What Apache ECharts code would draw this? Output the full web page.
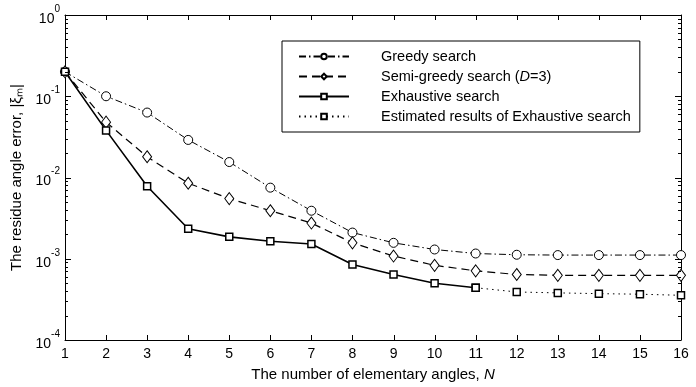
<!DOCTYPE html>
<html>
<head>
<meta charset="utf-8">
<script src="https://cdn.jsdelivr.net/npm/echarts@6/dist/echarts.min.js"></script>
<style>
  html, body { margin: 0; padding: 0; background: #fff; }
  #chart { width: 696px; height: 387px; }
</style>
</head>
<body>
<div id="chart"></div>
<script>
// number of elementary angles N
const nValues = [1, 2, 3, 4, 5, 6, 7, 8, 9, 10, 11, 12, 13, 14, 15, 16];

const greedy = [0.2, 0.1, 0.063, 0.029, 0.0155, 0.0075, 0.0039, 0.0021, 0.00157, 0.0013, 0.00116, 0.00112, 0.00111, 0.00111, 0.00111, 0.00111];
const semiGreedy = [0.2, 0.048, 0.018, 0.0085, 0.0055, 0.0039, 0.00275, 0.00157, 0.00108, 0.00083, 0.00071, 0.00064, 0.000625, 0.000625, 0.000625, 0.000625];
// exhaustive search runs N = 1..11, estimate continues N = 11..16
const exhaustive = [0.2, 0.038, 0.0078, 0.00234, 0.00186, 0.00164, 0.00152, 0.00085, 0.00064, 0.0005, 0.00044];
const estimatedN = [11, 12, 13, 14, 15, 16];
const estimated = [0.00044, 0.00039, 0.00038, 0.000372, 0.000366, 0.000355];

// decade exponents on the y axis; minor ticks at 2..9 of each decade
const yExponents = [-4, -3, -2, -1, 0];
const minorSteps = [2, 3, 4, 5, 6, 7, 8, 9];

const font = "Liberation Sans, Arial, Helvetica, sans-serif";

const chartDom = document.getElementById("chart");
const myChart = echarts.init(chartDom);

const pairs = (xs, ys) => ys.map((y, i) => [xs[i], y]);

const yLabel = (v) => "{b|10}{s|" + Math.round(Math.log10(v)) + "}";

const xAxisBase = (position) => ({
  type: "value",
  min: nValues[0],
  max: nValues[nValues.length - 1],
  interval: 1,
  position: position,
  axisLine: { show: true, onZero: false, lineStyle: { color: "#000" } },
  axisTick: { show: false },
  splitLine: { show: false },
});

const yAxisBase = (position) => ({
  type: "log",
  logBase: 10,
  min: Math.pow(10, yExponents[0]),
  max: Math.pow(10, yExponents[yExponents.length - 1]),
  position: position,
  axisLine: { show: true, onZero: false, lineStyle: { color: "#000", width: 1 } },
  axisTick: { show: false },
  splitLine: { show: false },
});

const option = {
  animation: false,
  grid: { left: 65, right: 15, top: 15, bottom: 44 },
  legend: {
    orient: "vertical",
    left: 282,
    top: 41,
    itemWidth: 50,
    itemHeight: 7,
    itemGap: 5,
    padding: [8, 9, 8, 16],
    borderColor: "#000",
    borderWidth: 1,
    data: ["Greedy search", "Semi-greedy search (D=3)", "Exhaustive search", "Estimated results of Exhaustive search"],
    formatter: (name) => name.replace("(D=3)", "({i|D}=3)"),
    textStyle: {
      fontFamily: font,
      fontSize: 14.5,
      lineHeight: 13,
      color: "#000",
      padding: [0, 0, 0, 27],
      rich: { i: { fontFamily: font, fontSize: 14.5, lineHeight: 13, fontStyle: "italic", color: "#000" } },
    },
  },
  xAxis: [
    Object.assign(xAxisBase("bottom"), {
      name: "The number of elementary angles, {i|N}",
      nameLocation: "middle",
      nameGap: 27,
      nameTextStyle: {
        fontFamily: font,
        fontSize: 15,
        color: "#000",
        rich: { i: { fontFamily: font, fontSize: 15, fontStyle: "italic", color: "#000" } },
      },
      axisLabel: { fontFamily: font, fontSize: 14, color: "#000", margin: 7 },
    }),
    Object.assign(xAxisBase("top"), { axisLabel: { show: false } }),
  ],
  yAxis: [
    Object.assign(yAxisBase("left"), {
      name: "The residue angle error, |ξₘ|",
      nameLocation: "middle",
      nameGap: 30,
      nameTextStyle: { fontFamily: font, fontSize: 15, color: "#000" },
      axisLabel: {
        formatter: yLabel,
        color: "#000",
        margin: 5,
        rich: {
          b: { fontSize: 14, fontFamily: font, color: "#000", padding: [8, 0, 0, 0] },
          s: { fontSize: 10, fontFamily: font, color: "#000", verticalAlign: "top" },
        },
      },
    }),
    Object.assign(yAxisBase("right"), { axisLabel: { show: false } }),
  ],
  series: [
    {
      name: "Greedy search",
      type: "line",
      data: pairs(nValues, greedy),
      symbol: "circle",
      symbolSize: 9,
      itemStyle: { color: "#fff", borderColor: "#000", borderWidth: 1 },
      lineStyle: { color: "#000", width: 1, type: [7, 3, 1.5, 3] },
      z: 3,
    },
    {
      name: "Semi-greedy search (D=3)",
      type: "line",
      data: pairs(nValues, semiGreedy),
      symbol: "diamond",
      symbolSize: [9, 12],
      itemStyle: { color: "#fff", borderColor: "#000", borderWidth: 1 },
      lineStyle: { color: "#000", width: 1.2, type: [8, 5] },
      z: 3,
    },
    {
      name: "Exhaustive search",
      type: "line",
      data: pairs(nValues, exhaustive),
      symbol: "rect",
      symbolSize: 7,
      itemStyle: { color: "#fff", borderColor: "#000", borderWidth: 1.5 },
      lineStyle: { color: "#000", width: 1.6, type: "solid" },
      z: 4,
    },
    {
      name: "Estimated results of Exhaustive search",
      type: "line",
      data: pairs(estimatedN, estimated),
      symbol: "rect",
      symbolSize: 7,
      itemStyle: { color: "#fff", borderColor: "#000", borderWidth: 1.5 },
      lineStyle: { color: "#000", width: 1, type: [1.5, 4] },
      z: 4,
    },
  ],
};

myChart.setOption(option);

// inward frame ticks, placed through the chart's own scales
// (axisTick with inside: true did not show up here)
const tickLine = (x1, y1, x2, y2) => ({
  type: "line",
  z: 20,
  silent: true,
  shape: { x1: x1, y1: y1, x2: x2, y2: y2 },
  style: { stroke: "#000", lineWidth: 1 },
});

const ticks = [];
const xLeft = myChart.convertToPixel({ xAxisIndex: 0 }, nValues[0]);
const xRight = myChart.convertToPixel({ xAxisIndex: 0 }, nValues[nValues.length - 1]);
const yBottom = myChart.convertToPixel({ yAxisIndex: 0 }, Math.pow(10, yExponents[0]));
const yTop = myChart.convertToPixel({ yAxisIndex: 0 }, Math.pow(10, yExponents[yExponents.length - 1]));

nValues.forEach((n) => {
  const x = Math.round(myChart.convertToPixel({ xAxisIndex: 0 }, n)) + 0.5;
  ticks.push(tickLine(x, yBottom, x, yBottom - 5));
  ticks.push(tickLine(x, yTop, x, yTop + 5));
});

yExponents.forEach((e, i) => {
  const y = Math.round(myChart.convertToPixel({ yAxisIndex: 0 }, Math.pow(10, e))) + 0.5;
  ticks.push(tickLine(xLeft, y, xLeft + 6, y));
  ticks.push(tickLine(xRight, y, xRight - 6, y));
  if (i < yExponents.length - 1) {
    minorSteps.forEach((k) => {
      const ym = Math.round(myChart.convertToPixel({ yAxisIndex: 0 }, k * Math.pow(10, e))) + 0.5;
      ticks.push(tickLine(xLeft, ym, xLeft + 3, ym));
      ticks.push(tickLine(xRight, ym, xRight - 3, ym));
    });
  }
});

myChart.setOption({ graphic: ticks });
</script>
</body>
</html>
